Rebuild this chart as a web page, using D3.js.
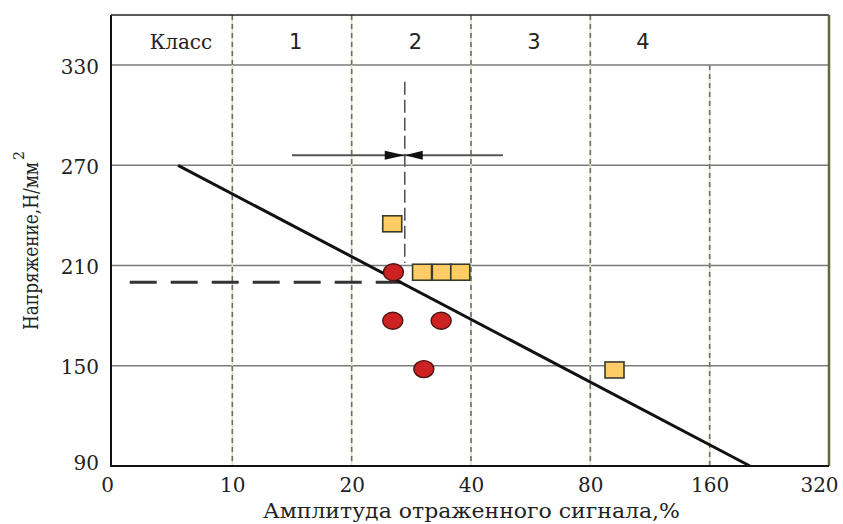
<!DOCTYPE html>
<html>
<head>
<meta charset="utf-8">
<script src="https://cdn.jsdelivr.net/npm/d3@7"></script>
<style>
  html, body { margin: 0; padding: 0; background: #fff; }
  svg { display: block; }
</style>
</head>
<body>
<svg id="chart" width="843" height="524"></svg>
<script>
// Amplitude axis: octave steps, drawn evenly spaced
const xTicks = [0, 10, 20, 40, 80, 160, 320];
const yTicks = [90, 150, 210, 270, 330];

// Class header row
const classNames = ["Класс", "1", "2", "3", "4"];
const classPos = [5.7, 15.3, 30.7, 61.1, 115.3];

// Measured points: amplitude (%) and stress (N/mm²)
const squareAmp = [26.8, 31.8, 35.1, 38.2, 96.2];
const squareStress = [235, 206, 206, 206, 147.5];
const circleAmp = [27.0, 26.9, 35.0, 32.1];
const circleStress = [206, 177, 177, 148];

// Reference lines
const trendAmp = [5.45, 214];
const trendStress = [270, 90];
const limitAmp = [1.4, 28.4];
const limitStress = 200;
const markerAmp = 28.9;
const markerStress = [320, 211.5];
const rangeAmp = [15, 50.7];
const rangeStress = 276;

const svg = d3.select("#chart");
const plotLeft = 111, plotRight = 829, plotTop = 15, plotBottom = 466;

// Piecewise-linear scale so each octave takes the same width
const step = (plotRight - 113) / (xTicks.length - 1);
const x = d3.scaleLinear()
  .domain(xTicks)
  .range(xTicks.map((d, i) => 113 + i * step));
const y = d3.scaleLinear().domain([90, 360]).range([plotBottom, plotTop]);

// Horizontal grid
svg.append("g").selectAll("line").data(yTicks.filter(d => d > 90)).join("line")
  .attr("x1", plotLeft).attr("x2", plotRight)
  .attr("y1", d => y(d)).attr("y2", d => y(d))
  .attr("stroke", "#7a7a7a").attr("stroke-width", 1.5);

// Vertical class boundaries (dashed)
const vLines = xTicks.slice(1, 6);
const vg = svg.append("g");
vLines.forEach(d => {
  const y0 = d === 160 ? y(330) : plotTop;
  vg.append("line")
    .attr("x1", x(d)).attr("x2", x(d)).attr("y1", y0).attr("y2", plotBottom)
    .attr("stroke", "#cfe6b0").attr("stroke-width", 1.5);
  vg.append("line")
    .attr("x1", x(d)).attr("x2", x(d)).attr("y1", y0).attr("y2", plotBottom)
    .attr("stroke", "#6e6e6e").attr("stroke-width", 1.6)
    .attr("stroke-dasharray", "5,4");
});

// Frame
svg.append("line").attr("x1", plotLeft).attr("x2", plotRight).attr("y1", plotTop).attr("y2", plotTop)
  .attr("stroke", "#222").attr("stroke-width", 1.6);
svg.append("line").attr("x1", plotRight).attr("x2", plotRight).attr("y1", plotTop).attr("y2", plotBottom)
  .attr("stroke", "#66663a").attr("stroke-width", 2.5);

// Class header labels
svg.append("g").selectAll("text").data(classNames).join("text")
  .attr("x", (d, i) => x(classPos[i]))
  .attr("y", 49)
  .attr("text-anchor", "middle")
  .attr("font-family", (d, i) => i === 0 ? "DejaVu Serif" : "DejaVu Sans")
  .attr("font-size", (d, i) => i === 0 ? 20 : 21)
  .attr("fill", "#222")
  .text(d => d);

// Threshold marker (vertical long-dash)
svg.append("line")
  .attr("x1", x(markerAmp)).attr("x2", x(markerAmp))
  .attr("y1", y(markerStress[0])).attr("y2", y(markerStress[1]))
  .attr("stroke", "#555").attr("stroke-width", 1.6)
  .attr("stroke-dasharray", "13,5");

// Range arrow with converging heads
const ay = y(rangeStress);
svg.append("line")
  .attr("x1", x(rangeAmp[0])).attr("x2", x(rangeAmp[1]))
  .attr("y1", ay).attr("y2", ay)
  .attr("stroke", "#555").attr("stroke-width", 2);
const tip = x(markerAmp);
svg.append("path")
  .attr("d", `M${tip},${ay} L${tip - 20},${ay - 4.5} L${tip - 20},${ay + 4.5} Z`)
  .attr("fill", "#111");
svg.append("path")
  .attr("d", `M${tip},${ay} L${tip + 18},${ay - 4.5} L${tip + 18},${ay + 4.5} Z`)
  .attr("fill", "#111");

// Limit level (heavy dashed)
svg.append("line")
  .attr("x1", x(limitAmp[0])).attr("x2", x(limitAmp[1]))
  .attr("y1", y(limitStress)).attr("y2", y(limitStress))
  .attr("stroke", "#333").attr("stroke-width", 3.2)
  .attr("stroke-dasharray", "27,14");

// Trend line
svg.append("line")
  .attr("x1", x(trendAmp[0])).attr("x2", x(trendAmp[1]))
  .attr("y1", y(trendStress[0])).attr("y2", y(trendStress[1]))
  .attr("stroke", "#111").attr("stroke-width", 3);

// Square markers
const sw = 19, sh = 16;
svg.append("g").selectAll("rect").data(squareAmp).join("rect")
  .attr("x", d => x(d) - sw / 2)
  .attr("y", (d, i) => y(squareStress[i]) - sh / 2)
  .attr("width", sw).attr("height", sh)
  .attr("fill", "#FFCC66").attr("stroke", "#3a3a2a").attr("stroke-width", 1.6);

// Circle markers
svg.append("g").selectAll("ellipse").data(circleAmp).join("ellipse")
  .attr("cx", d => x(d))
  .attr("cy", (d, i) => y(circleStress[i]))
  .attr("rx", 10).attr("ry", 8.5)
  .attr("fill", "#CC2222").attr("stroke", "#4a1414").attr("stroke-width", 1.4);

// Axes
const yAxis = svg.append("g")
  .attr("transform", `translate(${plotLeft},0)`)
  .call(d3.axisLeft(y).tickValues(yTicks).tickSize(0).tickPadding(12));
yAxis.select(".domain").remove();
yAxis.selectAll("text")
  .attr("font-family", "DejaVu Serif").attr("font-size", 20).attr("fill", "#222")
  .attr("dy", d => d === 90 ? "0.15em" : "0.4em");

const xAxis = svg.append("g")
  .attr("transform", `translate(0,${plotBottom})`)
  .call(d3.axisBottom(x).tickValues(xTicks).tickSize(0).tickPadding(12).tickFormat(d3.format("d")));
xAxis.select(".domain").remove();
xAxis.selectAll("text")
  .attr("font-family", "DejaVu Serif").attr("font-size", 20).attr("fill", "#222")
  .attr("dx", (d, i) => i === 0 ? -6 : (i === xTicks.length - 1 ? -10 : 0));

svg.append("line").attr("x1", plotLeft).attr("x2", plotLeft).attr("y1", plotTop).attr("y2", plotBottom + 1)
  .attr("stroke", "#111").attr("stroke-width", 2);
svg.append("line").attr("x1", plotLeft).attr("x2", plotRight).attr("y1", plotBottom).attr("y2", plotBottom)
  .attr("stroke", "#111").attr("stroke-width", 2);

// Axis titles
svg.append("text")
  .attr("x", 263).attr("y", 518)
  .attr("font-family", "DejaVu Serif").attr("font-size", 20).attr("fill", "#222")
  .attr("textLength", 417).attr("lengthAdjust", "spacingAndGlyphs")
  .text("Амплитуда отраженного сигнала,%");

const yt = svg.append("g").attr("transform", "translate(38,330) rotate(-90)");
yt.append("text")
  .attr("x", 0).attr("y", 0)
  .attr("font-family", "DejaVu Serif").attr("font-size", 20).attr("fill", "#222")
  .attr("textLength", 168).attr("lengthAdjust", "spacingAndGlyphs")
  .text("Напряжение,Н/мм");
yt.append("text")
  .attr("x", 170).attr("y", -14)
  .attr("font-family", "DejaVu Serif").attr("font-size", 14).attr("fill", "#222")
  .text("2");
</script>
</body>
</html>
